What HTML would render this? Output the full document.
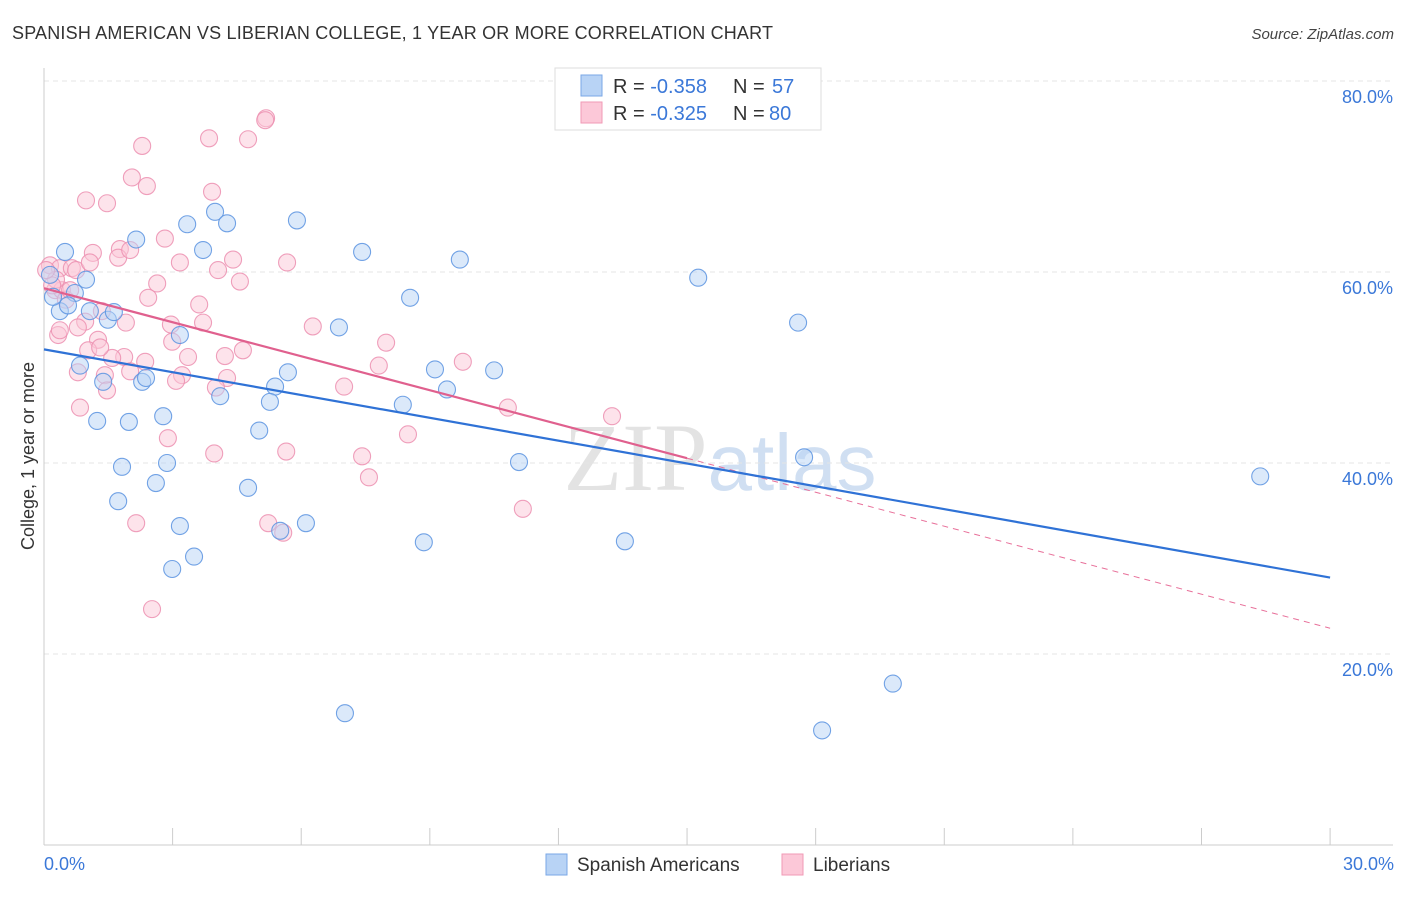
<!DOCTYPE html>
<html><head><meta charset="utf-8"><style>
body{margin:0;background:#fff;font-family:"Liberation Sans",sans-serif;}
</style></head><body>
<svg id="chart" width="1406" height="892" xmlns="http://www.w3.org/2000/svg" font-family="Liberation Sans, sans-serif">
<text x="12" y="39" font-size="18" fill="#333" textLength="761">SPANISH AMERICAN VS LIBERIAN COLLEGE, 1 YEAR OR MORE CORRELATION CHART</text>
<text x="1394" y="39" font-size="15" fill="#444" font-style="italic" text-anchor="end">Source: ZipAtlas.com</text>
<text x="720" y="490" font-size="96" text-anchor="middle" fill="#ddd" opacity="0.8" font-family="Liberation Serif, serif">ZIP<tspan fill="#c5d8ef" font-family="Liberation Sans, sans-serif" font-size="80">atlas</tspan></text>
<g id="grid"></g>
<g id="axes"></g>
<g id="marks"></g>
<text transform="translate(34,456) rotate(-90)" font-size="18" fill="#333" text-anchor="middle">College, 1 year or more</text>
<text x="44" y="870" font-size="18" fill="#3b78d8">0.0%</text>
<text x="1394" y="870" font-size="18" fill="#3b78d8" text-anchor="end">30.0%</text>
<g>
<rect x="555" y="68" width="266" height="62" fill="#fff" stroke="#ddd"/>
<rect x="581" y="75" width="21" height="21" fill="#b8d3f5" stroke="#7aa7e6"/>
<rect x="581" y="102" width="21" height="21" fill="#fcc8d8" stroke="#f09ab6"/>
<text x="613" y="93" font-size="20" fill="#333">R = <tspan fill="#3b78d8">-0.358</tspan><tspan x="733">N = </tspan><tspan x="772" fill="#3b78d8">57</tspan></text>
<text x="613" y="120" font-size="20" fill="#333">R = <tspan fill="#3b78d8">-0.325</tspan><tspan x="733">N = </tspan><tspan x="769" fill="#3b78d8">80</tspan></text>
</g>
<g>
<rect x="546" y="854" width="21" height="21" fill="#b8d3f5" stroke="#7aa7e6"/>
<text x="577" y="871" font-size="19" fill="#333">Spanish Americans</text>
<rect x="782" y="854" width="21" height="21" fill="#fcc8d8" stroke="#f09ab6"/>
<text x="813" y="871" font-size="19" fill="#333">Liberians</text>
</g>
</svg>
<script>
const blueX=[0.49,0.98,0.72,0.37,0.56,1.07,1.49,1.63,0.21,0.84,1.38,2.29,2.38,1.24,1.98,2.78,1.82,2.87,1.73,2.61,3.17,2.99,3.50,2.15,3.34,3.99,4.27,3.71,3.17,4.11,5.39,5.69,5.27,5.02,4.76,5.51,6.11,5.90,6.88,7.42,8.54,9.12,9.40,8.37,9.70,10.50,11.08,8.86,13.55,15.26,17.59,17.73,7.02,18.15,19.80,28.37,0.14];
const blueY=[62.1,59.2,57.8,55.9,56.5,55.9,55.0,55.8,57.4,50.2,48.5,48.5,48.9,44.4,44.3,44.9,39.6,40.0,36.0,37.9,33.4,28.9,30.2,63.4,65.0,66.3,65.1,62.3,53.4,47.0,48.0,49.5,46.4,43.4,37.4,32.9,33.7,65.4,54.2,62.1,57.3,49.8,47.7,46.1,61.3,49.7,40.1,31.7,31.8,59.4,54.7,40.6,13.8,12.0,16.9,38.6,59.7];
const pinkX=[5.18,5.16,3.85,4.76,2.29,0.98,1.47,2.05,2.40,3.92,2.82,1.77,1.14,1.73,4.41,5.67,4.06,4.57,2.64,0.14,0.37,0.65,0.75,0.26,0.42,2.43,3.62,1.35,0.96,1.91,3.71,6.27,2.96,0.33,1.26,2.99,1.03,4.64,7.98,1.87,1.59,3.36,2.36,4.22,0.79,2.01,1.42,3.22,3.08,4.27,4.01,1.47,7.00,7.81,9.77,0.84,2.89,8.49,3.97,5.65,7.42,7.58,10.82,13.25,2.15,5.23,5.58,2.52,11.17,0.28,0.51,0.61,0.19,0.05,1.31,2.01,0.79,1.07,0.37,3.17];
const pinkY=[76.1,75.9,74.0,73.9,73.2,67.5,67.2,69.9,69.0,68.4,63.5,62.4,62.0,61.5,61.3,61.0,60.2,59.0,58.8,60.7,60.4,60.4,60.2,58.1,58.1,57.3,56.6,55.9,54.8,54.7,54.7,54.3,54.5,53.4,52.9,52.7,51.8,51.8,52.6,51.1,51.0,51.1,50.6,51.2,49.5,49.6,49.2,49.2,48.6,48.9,47.9,47.6,48.0,50.2,50.6,45.8,42.6,43.0,41.0,41.2,40.7,38.5,45.8,44.9,33.7,33.7,32.7,24.7,35.2,59.2,57.1,58.1,58.6,60.2,52.1,62.3,54.2,61.0,53.9,61.0];
const yTicks=[20,40,60,80];
const yTickLabels=["20.0%","40.0%","60.0%","80.0%"];
const xTicks=[0,3,6,9,12,15,18,21,24,27,30];
const blueTrend=[51.9,28.0];
const pinkTrend=[58.3,22.7];
const pinkSolidEnd=15;

const NS="http://www.w3.org/2000/svg";
const sx=v=>44+v*42.87;
const sy=v=>845-v*9.55;
function mk(tag,attrs,parent){const e=document.createElementNS(NS,tag);for(const k in attrs)e.setAttribute(k,attrs[k]);parent.appendChild(e);return e;}
const grid=document.getElementById('grid'),axes=document.getElementById('axes'),marks=document.getElementById('marks');
yTicks.forEach((t,i)=>{
  const l=mk('line',{x1:44,x2:1393,y1:sy(t),y2:sy(t),stroke:'#e4e4e4','stroke-dasharray':'5,4'},grid);
  
  
  const tx=mk('text',{x:1393,y:sy(t)+22,'font-size':18,fill:'#3b78d8','text-anchor':'end'},axes);
  tx.textContent=yTickLabels[i];
  
  
});
const ya=mk('line',{x1:44,x2:44,y1:68,y2:845,stroke:'#ccc'},axes);


const xa=mk('line',{x1:44,x2:1393,y1:845,y2:845,stroke:'#ccc'},axes);


xTicks.forEach(t=>{
  const l=mk('line',{x1:sx(t),x2:sx(t),y1:828,y2:845,stroke:'#ccc'},axes);
  
  
});
function dots(X,Y,fill,stroke,name){
  X.forEach((x,i)=>{
    const c=mk('circle',{cx:sx(x),cy:sy(Y[i]),r:8.5,fill:fill,'fill-opacity':0.5,stroke:stroke,'stroke-width':1.1,'stroke-opacity':0.85},marks);
    
    
  });
}
dots(pinkX,pinkY,'#fcc8d8','#ec8fb0','liberian-point');
dots(blueX,blueY,'#b8d3f5','#5b93e0','spanish-american-point');
const pAt=x=>pinkTrend[0]+(pinkTrend[1]-pinkTrend[0])*x/30;
const pd=mk('line',{x1:sx(pinkSolidEnd),y1:sy(pAt(pinkSolidEnd)),x2:sx(30),y2:sy(pAt(30)),stroke:'#e8709a','stroke-width':1,'stroke-dasharray':'6,5'},marks);


const bl=mk('line',{x1:sx(0),y1:sy(blueTrend[0]),x2:sx(30),y2:sy(blueTrend[1]),stroke:'#2f72d6','stroke-width':2.2},marks);


const pl=mk('line',{x1:sx(0),y1:sy(pinkTrend[0]),x2:sx(pinkSolidEnd),y2:sy(pAt(pinkSolidEnd)),stroke:'#e0608e','stroke-width':2.2},marks);


</script>
</body></html>
